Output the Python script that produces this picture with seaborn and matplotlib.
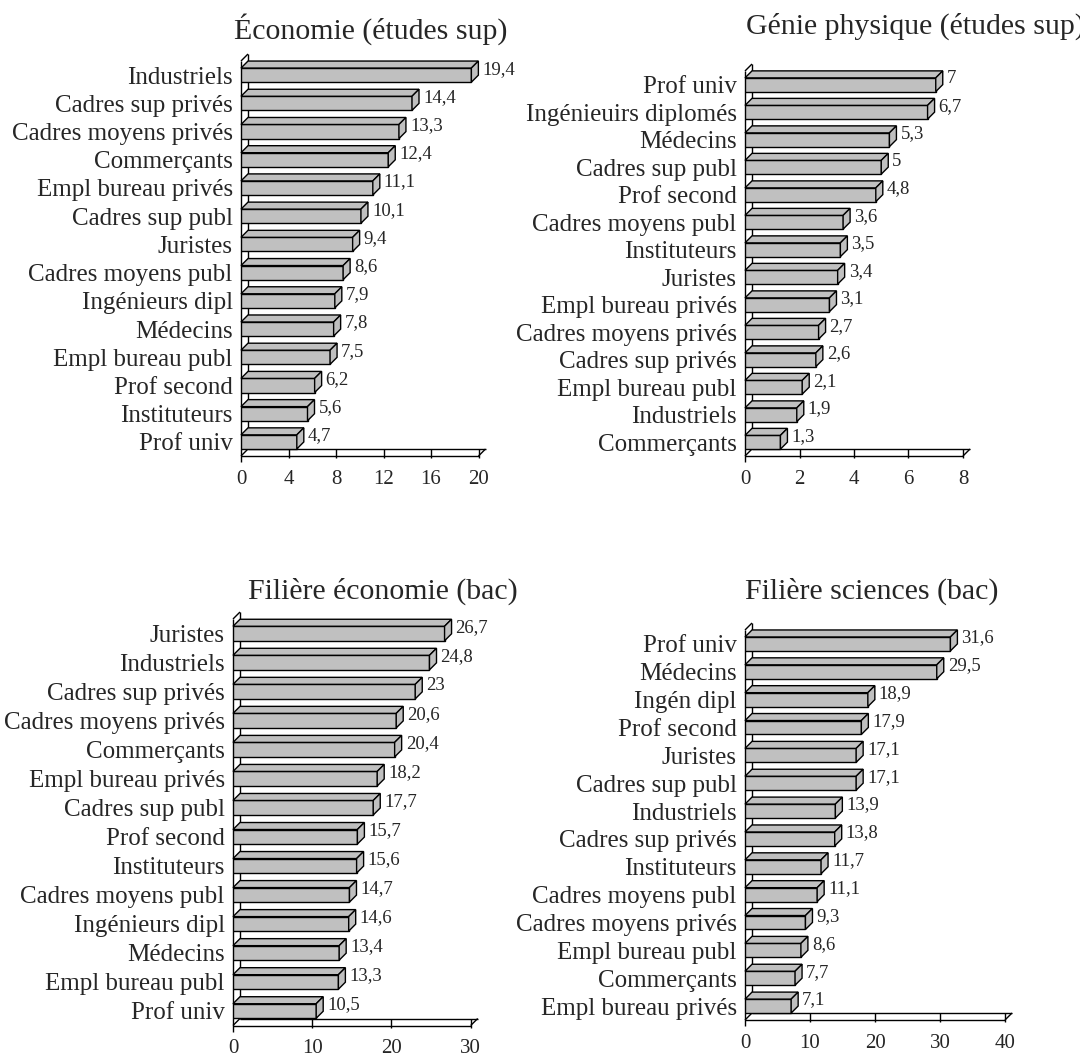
import matplotlib
matplotlib.use("Agg")
import matplotlib.pyplot as plt
import pandas as pd
import seaborn as sns
from matplotlib.patches import Polygon
from matplotlib.lines import Line2D

# ---- data -------------------------------------------------------------
eco_sup_title = "Économie (études sup)"
eco_sup_labels = ["Industriels", "Cadres sup privés", "Cadres moyens privés",
                  "Commerçants", "Empl bureau privés", "Cadres sup publ",
                  "Juristes", "Cadres moyens publ", "Ingénieurs dipl",
                  "Médecins", "Empl bureau publ", "Prof second",
                  "Instituteurs", "Prof univ"]
eco_sup_values = [19.4, 14.4, 13.3, 12.4, 11.1, 10.1, 9.4, 8.6, 7.9, 7.8,
                  7.5, 6.2, 5.6, 4.7]

phys_sup_title = "Génie physique (études sup)"
phys_sup_labels = ["Prof univ", "Ingénieuirs diplomés", "Médecins",
                   "Cadres sup publ", "Prof second", "Cadres moyens publ",
                   "Instituteurs", "Juristes", "Empl bureau privés",
                   "Cadres moyens privés", "Cadres sup privés",
                   "Empl bureau publ", "Industriels", "Commerçants"]
phys_sup_values = [7, 6.7, 5.3, 5, 4.8, 3.6, 3.5, 3.4, 3.1, 2.7, 2.6, 2.1,
                   1.9, 1.3]

eco_bac_title = "Filière économie (bac)"
eco_bac_labels = ["Juristes", "Industriels", "Cadres sup privés",
                  "Cadres moyens privés", "Commerçants", "Empl bureau privés",
                  "Cadres sup publ", "Prof second", "Instituteurs",
                  "Cadres moyens publ", "Ingénieurs dipl", "Médecins",
                  "Empl bureau publ", "Prof univ"]
eco_bac_values = [26.7, 24.8, 23, 20.6, 20.4, 18.2, 17.7, 15.7, 15.6, 14.7,
                  14.6, 13.4, 13.3, 10.5]

sci_bac_title = "Filière sciences (bac)"
sci_bac_labels = ["Prof univ", "Médecins", "Ingén dipl", "Prof second",
                  "Juristes", "Cadres sup publ", "Industriels",
                  "Cadres sup privés", "Instituteurs", "Cadres moyens publ",
                  "Cadres moyens privés", "Empl bureau publ", "Commerçants",
                  "Empl bureau privés"]
sci_bac_values = [31.6, 29.5, 18.9, 17.9, 17.1, 17.1, 13.9, 13.8, 11.7, 11.1,
                  9.3, 8.6, 7.7, 7.1]

x_max = [20, 8, 30, 40]
x_step = [4, 2, 10, 10]

# ---- style ------------------------------------------------------------
sns.set_theme(style="white")
plt.rcParams["font.family"] = ["Liberation Serif", "DejaVu Serif"]

W, H = 1080, 1059
DPI = 100
FACE = "#c0c0c0"
DEPTH = 7          # depth of the pseudo-3D extrusion, in pixels
LABEL_SIZE = 18
VALUE_SIZE = 13.5
TICK_SIZE = 15
TITLE_SIZE = 21.5

fig = plt.figure(figsize=(W / DPI, H / DPI), dpi=DPI)
fig.patch.set_facecolor("white")


def px_axes(x0, x1, ytop, ybot):
    return fig.add_axes([x0 / W, 1 - ybot / H, (x1 - x0) / W, (ybot - ytop) / H])


def draw_panel(ax, labels, values, xmax, step):
    n = len(labels)
    df = pd.DataFrame({"cat": labels, "val": values})
    sns.barplot(data=df, x="val", y="cat", ax=ax, orient="h", color=FACE,
                saturation=1, edgecolor="black", linewidth=1, width=0.5,
                zorder=3)
    ax.set_xlim(0, xmax)
    ax.set_ylim(n - 0.5, -0.5)
    ax.set_xlabel("")
    ax.set_ylabel("")
    for s in ax.spines.values():
        s.set_visible(False)
    ax.set_facecolor("none")

    # pixel -> data conversions for the extrusion
    bb = ax.get_window_extent()
    ux = xmax / bb.width
    uy = n / bb.height
    dx = DEPTH * ux
    dy = DEPTH * uy
    ytop, ybot = -0.5, n - 0.5
    lk = dict(color="black", lw=1, clip_on=False, zorder=1,
              solid_capstyle="butt")

    # left wall
    ax.add_line(Line2D([0, 0], [ytop, ybot + 6 * uy], **lk))
    ax.add_line(Line2D([dx, dx], [ytop - dy, ybot - dy], **lk))
    ax.add_line(Line2D([0, dx], [ytop, ytop - dy], **lk))
    # floor
    ax.add_line(Line2D([0, xmax], [ybot, ybot], **lk))
    ax.add_line(Line2D([dx, xmax + dx], [ybot - dy, ybot - dy], **lk))
    ax.add_line(Line2D([xmax, xmax + dx], [ybot, ybot - dy], **lk))
    ax.add_line(Line2D([0, dx], [ybot, ybot - dy], **lk))
    ticks = list(range(0, xmax + 1, step))
    for t in ticks[1:]:
        ax.add_line(Line2D([t, t], [ybot - dy, ybot + 2 * uy], **lk))

    # top and side faces of every bar
    for bar, v in zip(ax.containers[0], values):
        x0, w = bar.get_x(), bar.get_width()
        y0, h = bar.get_y(), bar.get_height()
        x1 = x0 + w
        top = [(x0, y0), (x1, y0), (x1 + dx, y0 - dy), (x0 + dx, y0 - dy)]
        side = [(x1, y0), (x1, y0 + h), (x1 + dx, y0 + h - dy), (x1 + dx, y0 - dy)]
        for pts in (top, side):
            ax.add_patch(Polygon(pts, closed=True, facecolor=FACE,
                                 edgecolor="black", lw=1, zorder=3,
                                 clip_on=False))
        ax.annotate(f"{v:g}".replace(".", ","), xy=(v, y0 + h / 2),
                    xytext=(DEPTH + 4, 6), textcoords="offset pixels",
                    ha="left", va="center", fontsize=VALUE_SIZE,
                    annotation_clip=False)

    ax.set_xticks(ticks)
    ax.set_xticklabels([str(t) for t in ticks], fontsize=TICK_SIZE)
    ax.set_yticks(range(n))
    ax.set_yticklabels(labels, fontsize=LABEL_SIZE)
    ax.tick_params(axis="x", length=0, pad=10)
    ax.tick_params(axis="y", length=0, pad=6)
    ax.grid(False)


panels = [
    (eco_sup_labels, eco_sup_values, (241, 478.5, 61, 456)),
    (phys_sup_labels, phys_sup_values, (745, 963, 71, 456)),
    (eco_bac_labels, eco_bac_values, (233, 470.7, 619, 1025.5)),
    (sci_bac_labels, sci_bac_values, (745, 1005, 630, 1020)),
]
for (labels, values, box), xm, st in zip(panels, x_max, x_step):
    ax = px_axes(*box)
    draw_panel(ax, labels, values, xm, st)

# chart titles
fig.text(371 / W, 1 - 29 / H, eco_sup_title, ha="center", va="center",
         fontsize=TITLE_SIZE)
fig.text(746 / W, 1 - 26 / H, phys_sup_title, ha="left", va="center",
         fontsize=TITLE_SIZE)
fig.text(383 / W, 1 - 591 / H, eco_bac_title, ha="center", va="center",
         fontsize=TITLE_SIZE)
fig.text(872 / W, 1 - 591 / H, sci_bac_title, ha="center", va="center",
         fontsize=TITLE_SIZE)

fig.savefig("out.png", dpi=DPI, facecolor="white")
